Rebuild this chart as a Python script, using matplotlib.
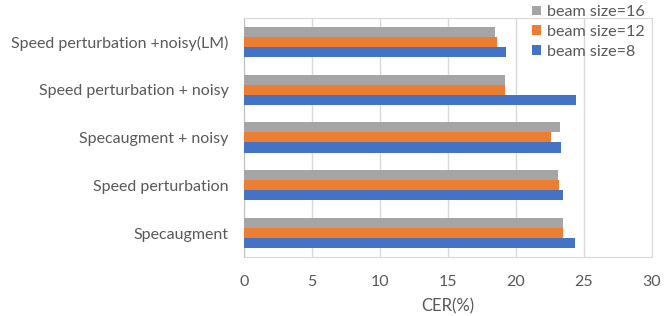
import numpy as np
import matplotlib.pyplot as plt

# data
categories = ["Specaugment", "Speed perturbation", "Specaugment + noisy",
              "Speed perturbation + noisy", "Speed perturbation +noisy(LM)"]
beam8 = [24.4, 23.5, 23.35, 24.45, 19.3]
beam12 = [23.45, 23.2, 22.6, 19.25, 18.65]
beam16 = [23.45, 23.1, 23.25, 19.25, 18.5]

plt.rcParams['font.family'] = ['Lato', 'DejaVu Sans']
txt = "#595959"

fig = plt.figure(figsize=(6.72, 3.16), dpi=100)
ax = fig.add_axes([0.363, 0.187, 0.6065, 0.756])

y = np.arange(len(categories))
h = 0.21
b1 = ax.barh(y - h, beam8, h, color="#4472C4", label="beam size=8", zorder=3)
b2 = ax.barh(y, beam12, h, color="#ED7D31", label="beam size=12", zorder=3)
b3 = ax.barh(y + h, beam16, h, color="#A5A5A5", label="beam size=16", zorder=3)

ax.set_xlim(0, 30)
ax.set_ylim(-0.5, len(categories) - 0.5)
ax.set_xticks(np.arange(0, 31, 5))
ax.set_yticks(y)
ax.set_yticklabels(categories, fontsize=11.3)
ax.tick_params(axis='both', length=0, colors=txt, labelsize=11.5)
ax.tick_params(axis='x', pad=13)
ax.tick_params(axis='y', pad=11)
ax.set_xlabel("CER(%)", color=txt, fontsize=12, labelpad=7)

ax.grid(axis='x', color="#D9D9D9", linewidth=1, zorder=0)
for s in ax.spines.values():
    s.set_color("#D9D9D9")
ax.spines['left'].set_color("#BFBFBF")

leg = ax.legend(handles=[b3, b2, b1], loc="upper right", bbox_to_anchor=(1.0, 1.08),
                frameon=False, fontsize=11.6, handlelength=0.55, handleheight=0.55,
                handletextpad=0.4, labelspacing=0.35, borderaxespad=0)
for t in leg.get_texts():
    t.set_color(txt)

fig.savefig("out.png", dpi=100)
